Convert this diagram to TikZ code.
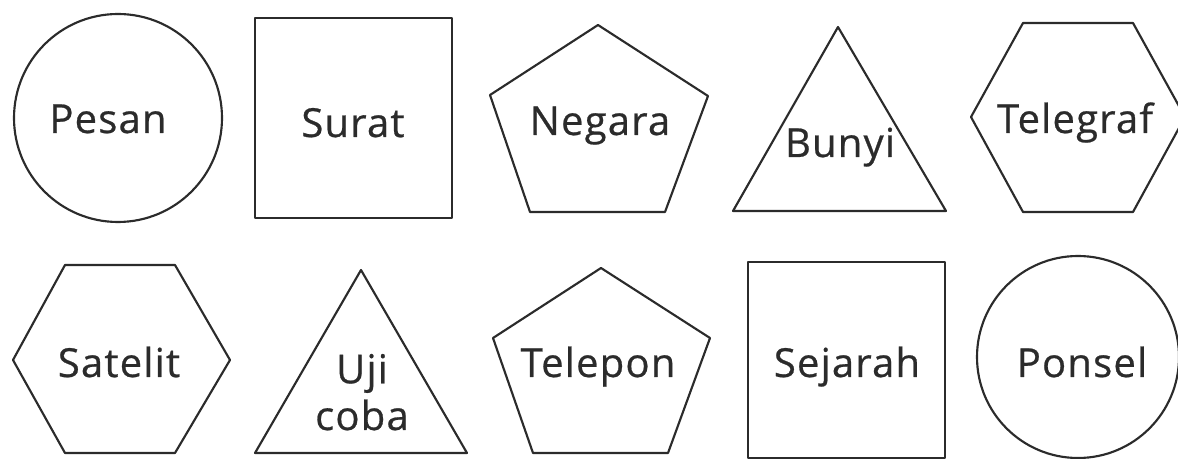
\documentclass[tikz,border=0pt]{standalone}
\usepackage{fontspec}
\newfontfamily\wordfont[LetterSpace=3,FakeBold=0.6]{Open Sans}
\usepackage{xcolor}
\definecolor{ink}{HTML}{2B2B2B}
\tikzset{
  outline/.style={draw=ink,line width=1.6pt,line join=round},
  word/.style={font=\wordfont\fontsize{30}{35}\selectfont,text=ink,
    inner sep=0pt,anchor=base,align=center},
}

\begin{document}
\begin{tikzpicture}[x=0.75pt,y=-0.75pt]
  \useasboundingbox (0,0) rectangle (1178,459);

  % first row
  \draw[outline] (118,118) circle[radius=104];
  \draw[outline] (255,18) rectangle (452,218);
  \draw[outline] (598,25)--(708,96)--(665,212)--(530,212)--(490,95)--cycle;
  \draw[outline] (838,27)--(946,211)--(733,211)--cycle;
  \draw[outline] (971,117)--(1023,23)--(1133,23)--(1185,117)--(1133,212)--(1023,212)--cycle;

  \node[word] (pesan) at (108,133){Pesan};
  \node[word] (surat) at (353,137){Surat};
  \node[word] (negara) at (600,135){Negara};
  \node[word] (bunyi) at (840,157){Bunyi};
  \node[word] (telegraf) at (1075,133){Telegraf};

  % second row
  \draw[outline] (13,360)--(65,265)--(175,265)--(230,360)--(175,453)--(65,453)--cycle;
  \draw[outline] (361,270)--(467,453)--(255,453)--cycle;
  \draw[outline] (601,268)--(710,338)--(668,453)--(533,453)--(493,338)--cycle;
  \draw[outline] (748,262) rectangle (945,458);
  \draw[outline] (1078,357) circle[radius=101];

  \node[word] (satelit) at (119,377){Satelit};
  \node[word] (ujicoba) at (362,430){Uji\\coba};
  \node[word] (telepon) at (598,377){Telepon};
  \node[word] (sejarah) at (847,377){Sejarah};
  \node[word] (ponsel) at (1082,377){Ponsel};
\end{tikzpicture}
\end{document}
